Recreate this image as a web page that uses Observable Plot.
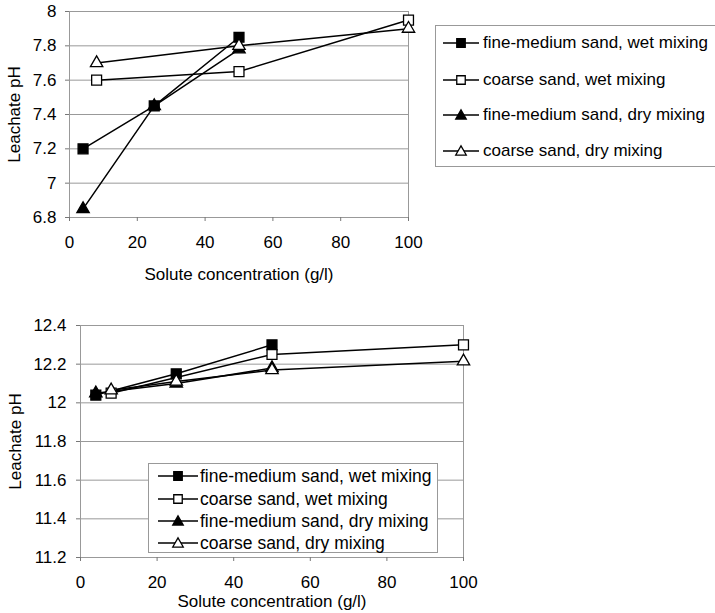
<!DOCTYPE html>
<html>
<head>
<meta charset="utf-8">
<script src="https://cdn.jsdelivr.net/npm/d3@7"></script>
<script src="https://cdn.jsdelivr.net/npm/@observablehq/plot@0.6"></script>
<style>
  body { margin: 0; background: #fff; }
  #wrap { position: relative; width: 715px; height: 613px; overflow: hidden; background: #fff; font-family: 'Liberation Sans', Arial, sans-serif; }
  .chart { position: absolute; left: 0; }
  .legend { position: absolute; border: 1px solid #999; background: #fff; box-sizing: border-box; }
  .row { position: absolute; left: 0; display: flex; align-items: center; white-space: nowrap; color: #000; }
  .row svg { display: block; }
</style>
</head>
<body>
<div id="wrap"></div>
<script>
// ---- data ----
const seriesNames = [
  "fine-medium sand, wet mixing",
  "coarse sand, wet mixing",
  "fine-medium sand, dry mixing",
  "coarse sand, dry mixing"
];
const xTicks = [0, 20, 40, 60, 80, 100];
const xLabel = "Solute concentration (g/l)";
const yLabel = "Leachate pH";

// top panel
const topYTicks = [6.8, 7, 7.2, 7.4, 7.6, 7.8, 8];
const topFineWetX = [4, 25, 50];
const topFineWetY = [7.2, 7.45, 7.85];
const topCoarseWetX = [8, 50, 100];
const topCoarseWetY = [7.6, 7.65, 7.95];
const topFineDryX = [4, 25, 50];
const topFineDryY = [6.85, 7.45, 7.78];
const topCoarseDryX = [8, 50, 100];
const topCoarseDryY = [7.7, 7.8, 7.9];

// bottom panel
const botYTicks = [11.2, 11.4, 11.6, 11.8, 12, 12.2, 12.4];
const botFineWetX = [4, 25, 50];
const botFineWetY = [12.04, 12.15, 12.3];
const botCoarseWetX = [8, 50, 100];
const botCoarseWetY = [12.05, 12.25, 12.3];
const botFineDryX = [4, 25, 50];
const botFineDryY = [12.05, 12.1, 12.18];
const botCoarseDryX = [8, 25, 50, 100];
const botCoarseDryY = [12.065, 12.11, 12.17, 12.215];

// ---- build ----
const styles = [
  {symbol: "square", fill: "#000", r: 5.6},
  {symbol: "square", fill: "#fff", r: 5.6},
  {symbol: "triangle", fill: "#000", r: 4.6},
  {symbol: "triangle", fill: "#fff", r: 4.6}
];
function table(xs, ys) { return xs.map((x, i) => ({x, y: ys[i]})); }
const topSeries = [
  table(topFineWetX, topFineWetY), table(topCoarseWetX, topCoarseWetY),
  table(topFineDryX, topFineDryY), table(topCoarseDryX, topCoarseDryY)
];
const botSeries = [
  table(botFineWetX, botFineWetY), table(botCoarseWetX, botCoarseWetY),
  table(botFineDryX, botFineDryY), table(botCoarseDryX, botCoarseDryY)
];

const fmt = d => String(+d.toFixed(1));

function chart(series, yTicks, o) {
  const marks = [
    Plot.gridY(yTicks, {stroke: "#999", strokeOpacity: 1, strokeWidth: 1}),
    Plot.frame({stroke: "#999", strokeWidth: 1}),
    Plot.axisX({ticks: xTicks, tickSize: 4, tickPadding: o.xPad, stroke: "#777",
      label: xLabel, labelAnchor: "center", labelArrow: false, labelOffset: o.xLabelOffset}),
    Plot.axisY({ticks: yTicks, tickSize: 4, tickPadding: o.yPad, tickFormat: fmt, stroke: "#777",
      label: yLabel, labelAnchor: "center", labelArrow: false, labelOffset: o.yLabelOffset})
  ];
  series.forEach((d, i) => {
    marks.push(Plot.line(d, {x: "x", y: "y", stroke: "#000", strokeWidth: 1.5}));
  });
  series.forEach((d, i) => {
    const s = styles[i];
    marks.push(Plot.dot(d, {x: "x", y: "y", symbol: s.symbol, r: s.r, fill: s.fill, stroke: "#000", strokeWidth: 1.3}));
  });
  return Plot.plot({
    width: o.width, height: o.height,
    marginLeft: o.ml, marginRight: o.mr, marginTop: o.mt, marginBottom: o.mb,
    style: {fontFamily: "'Liberation Sans', Arial, sans-serif", fontSize: "17px", color: "#000", background: "transparent", overflow: "visible"},
    x: {domain: [0, 100]},
    y: {domain: [yTicks[0], yTicks[yTicks.length - 1]]},
    marks
  });
}

const wrap = document.getElementById("wrap");

const top1 = chart(topSeries, topYTicks, {width: 420, height: 290, ml: 69, mr: 12, mt: 11, mb: 73,
  xPad: 14, yPad: 9, xLabelOffset: 62, yLabelOffset: 62});
top1.classList.add("chart"); top1.style.top = "0px";
wrap.appendChild(top1);

const bot1 = chart(botSeries, botYTicks, {width: 480, height: 303, ml: 80, mr: 17, mt: 15, mb: 56,
  xPad: 14, yPad: 10, xLabelOffset: 49, yLabelOffset: 72});
bot1.classList.add("chart"); bot1.style.top = "310px";
wrap.appendChild(bot1);

function legend(left, top, width, height, rowTops, lineX0, lineX1, textGap, fontSize) {
  const box = d3.select(wrap).append("div").attr("class", "legend")
    .style("left", left + "px").style("top", top + "px")
    .style("width", width + "px").style("height", height + "px");
  seriesNames.forEach((name, i) => {
    const s = styles[i];
    const row = box.append("div").attr("class", "row")
      .style("font-size", fontSize + "px")
      .style("top", (rowTops[i] - 10) + "px").style("height", "20px").style("left", lineX0 + "px");
    const w = lineX1 - lineX0;
    const svg = row.append("svg").attr("width", w).attr("height", 20);
    svg.append("line").attr("x1", 0).attr("x2", w).attr("y1", 10).attr("y2", 10)
      .attr("stroke", "#000").attr("stroke-width", 1.5);
    const sym = s.symbol === "square" ? d3.symbolSquare : d3.symbolTriangle;
    const size = s.symbol === "square" ? 72 : 48;
    svg.append("path").attr("d", d3.symbol(sym, size)())
      .attr("transform", `translate(${w / 2},${s.symbol === "square" ? 10 : 11})`)
      .attr("fill", s.fill).attr("stroke", "#000").attr("stroke-width", 1.3);
    row.append("span").style("margin-left", textGap + "px").text(name);
  });
}
legend(435, 25, 290, 142, [17, 54, 89, 125], 7, 43, 4, 17);
legend(148, 463, 290, 90, [12, 35, 57, 79], 9, 49, 2, 17.5);
</script>
</body>
</html>
